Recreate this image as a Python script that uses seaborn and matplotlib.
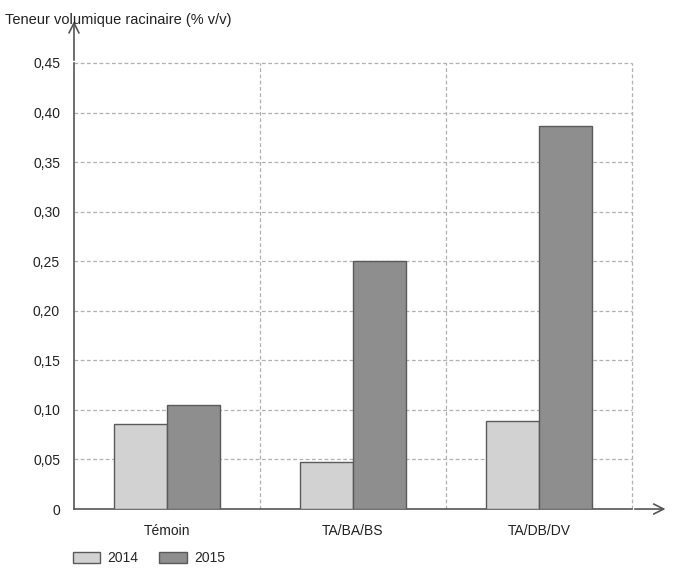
import matplotlib
matplotlib.use("Agg")
import matplotlib.pyplot as plt
import seaborn as sns
import pandas as pd

# data
categories = ["Témoin", "TA/BA/BS", "TA/DB/DV"]
years = ["2014", "2015"]
values_2014 = [0.086, 0.047, 0.089]
values_2015 = [0.105, 0.250, 0.386]
y_ticks = [0, 0.05, 0.10, 0.15, 0.20, 0.25, 0.30, 0.35, 0.40, 0.45]
y_tick_labels = ["0", "0,05", "0,10", "0,15", "0,20", "0,25", "0,30", "0,35", "0,40", "0,45"]

df = pd.DataFrame({
    "Traitement": categories * 2,
    "Annee": [years[0]] * 3 + [years[1]] * 3,
    "Teneur": values_2014 + values_2015,
})

sns.set_style("white")
plt.rcParams["font.family"] = ["Liberation Sans", "DejaVu Sans"]

fig = plt.figure(figsize=(6.75, 5.72), dpi=100)
ax = fig.add_axes([0.1096, 0.1101, 0.8267, 0.7798])

sns.barplot(data=df, x="Traitement", y="Teneur", hue="Annee", order=categories,
            hue_order=years, palette=["#d2d2d2", "#8e8e8e"], width=0.57,
            edgecolor="#5a5a5a", linewidth=1.0, saturation=1, ax=ax, zorder=3)

ax.set_xlim(-0.5, 2.5)
ax.set_ylim(0, 0.45)
ax.set_yticks(y_ticks)
ax.set_yticklabels(y_tick_labels, fontsize=10, color="#222222")
ax.tick_params(axis="x", labelsize=10, colors="#222222", length=0, pad=11)
ax.tick_params(axis="y", length=0, pad=10)
ax.set_xlabel("")
ax.set_ylabel("")

# dashed grid
for t in y_ticks[1:]:
    ax.axhline(t, color="#b0b0b0", linestyle=(0, (3, 2)), linewidth=0.9, zorder=1, clip_on=False)
for xv in [0.5, 1.5, 2.5]:
    ax.axvline(xv, color="#b0b0b0", linestyle=(0, (3, 2)), linewidth=0.9, zorder=1, clip_on=False)

for s in ["top", "right"]:
    ax.spines[s].set_visible(False)
for s in ["left", "bottom"]:
    ax.spines[s].set_color("#555555")
    ax.spines[s].set_linewidth(1.2)

# axis arrows
ax.annotate("", xy=(0, 1.1), xytext=(0, 1.0), xycoords="axes fraction",
            arrowprops=dict(arrowstyle="->", color="#555555", lw=1.2, mutation_scale=18))
ax.annotate("", xy=(1.065, 0), xytext=(1.0, 0), xycoords="axes fraction",
            arrowprops=dict(arrowstyle="->", color="#555555", lw=1.2, mutation_scale=18))

fig.text(0.008, 0.965, "Teneur volumique racinaire (% v/v)", fontsize=10.5, color="#222222",
         ha="left", va="center")

ax.legend(loc="center left", bbox_to_anchor=(-0.015, -0.11), ncol=2, frameon=False,
          fontsize=10, handlelength=2.0, handleheight=0.8, columnspacing=1.5,
          handletextpad=0.5, borderpad=0)

fig.savefig("out.png", dpi=100)
